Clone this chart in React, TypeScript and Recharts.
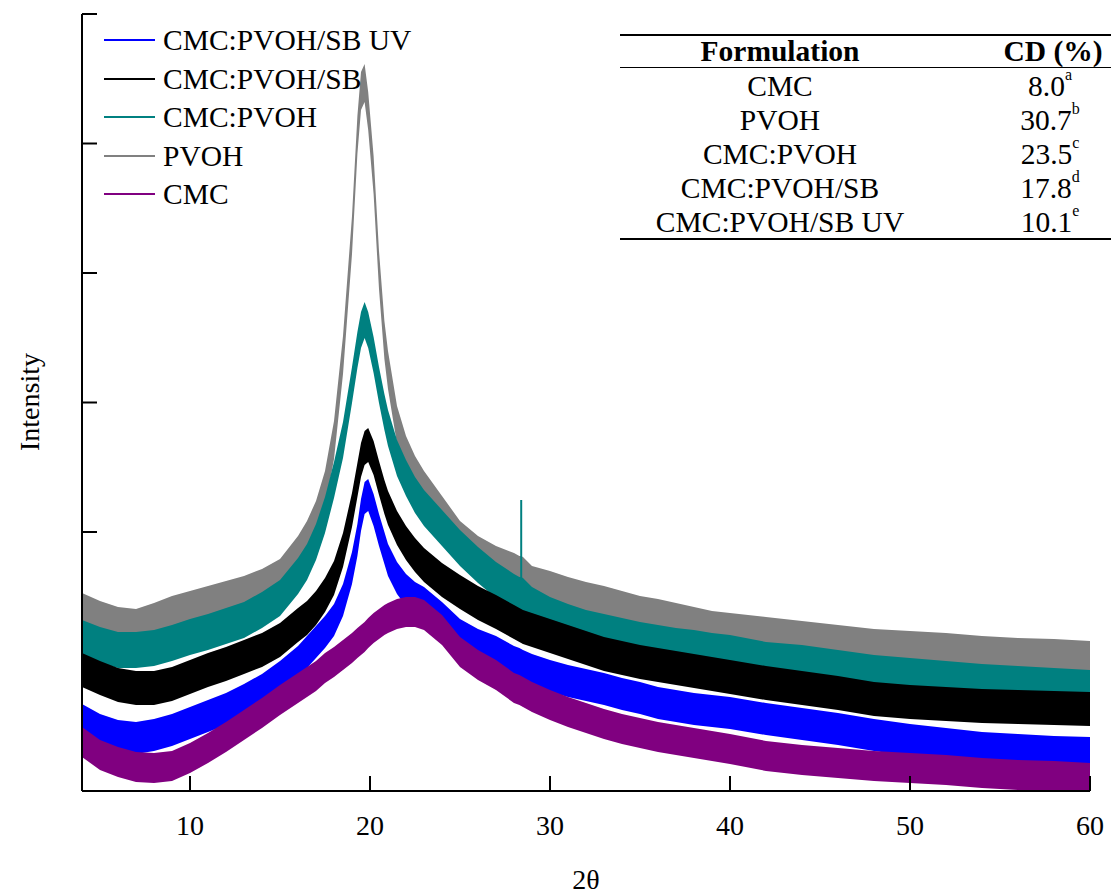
import React from "react";
import { ComposedChart, Area, XAxis, YAxis, ReferenceLine } from "recharts";

// 2θ positions (deg) shared by all patterns
const twoTheta = [
  4, 5, 6, 7, 8, 9, 10, 11, 12, 13, 14, 15, 16, 16.5, 17, 17.5, 18, 18.5, 19, 19.3, 19.5, 19.7, 19.9,
  20.2, 20.5, 20.8, 21, 21.5, 22, 22.5, 23, 24, 25, 26, 27, 28, 28.3, 28.4, 28.5, 29, 30, 31, 32, 33,
  34, 35, 36, 37, 38, 39, 40, 42, 44, 46, 48, 50, 52, 54, 56, 58, 60,
];

// mean intensity of each trace (arbitrary units)
const pvoh = [
  179, 171, 165, 163, 169, 176, 181, 186, 191, 196, 203, 213, 236, 251, 271, 301, 351, 436, 556, 656, 700,
  708, 680, 616, 521, 451, 421, 366, 336, 316, 301, 276, 251, 236, 226, 219, 216, 216, 215, 206, 201, 195,
  190, 186, 181, 176, 173, 169, 165, 161, 159, 155, 151, 147, 143, 141, 139, 136, 134, 133, 131,
];
const cmcPvoh = [
  153, 146, 141, 141, 143, 148, 154, 159, 165, 171, 181, 193, 215, 229, 249, 276, 311, 351, 406, 441, 461,
  471, 461, 436, 406, 379, 363, 333, 313, 296, 283, 263, 243, 226, 211, 199, 196, 196, 195, 186, 176, 169,
  163, 159, 155, 151, 148, 145, 143, 140, 138, 131, 128, 123, 118, 115, 112, 109, 107, 105, 103,
];
const cmcPvohSb = [
  121, 113, 106, 103, 103, 107, 114, 121, 127, 134, 141, 151, 166, 173, 183, 196, 213, 241, 281, 311, 331,
  343, 346, 333, 313, 294, 283, 263, 248, 236, 226, 211, 199, 188, 179, 169, 166, 165, 164, 161, 155, 149,
  143, 137, 133, 129, 126, 123, 120, 117, 114, 108, 103, 98, 92, 89, 87, 85, 84, 83, 82,
];
const cmcPvohSbUv = [
  71, 61, 55, 53, 56, 61, 68, 75, 82, 91, 101, 114, 129, 139, 149, 159, 171, 191, 223, 251, 276,
  293, 296, 281, 261, 243, 231, 213, 201, 193, 188, 173, 156, 146, 139, 129, 127, 126, 125, 121, 115, 110,
  106, 102, 97, 93, 88, 85, 82, 80, 78, 72, 67, 62, 56, 51, 47, 43, 41, 39, 38,
];
const cmc = [
  49, 36, 29, 24, 23, 25, 33, 43, 54, 66, 78, 91, 103, 109, 115, 123, 129, 136, 143, 148, 151,
  154, 158, 163, 167, 171, 173, 177, 179, 179, 176, 161, 139, 126, 116, 103, 101, 100, 99, 94, 86, 79,
  73, 67, 62, 58, 54, 51, 48, 45, 42, 35, 31, 28, 25, 23, 21, 18, 16, 15, 13,
];

// half width of the noise band of each trace
const noise = { pvoh: 19, cmcPvoh: 18, cmcPvohSb: 17, cmcPvohSbUv: 16, cmc: 15 };

// sharp reflection in the CMC:PVOH pattern
const spikeX = 28.4;
const spikeFrom = 196;
const spikeTo = 291;

const xTicks = [10, 20, 30, 40, 50, 60];
const yTicks = [0, 129.5, 259, 388.5, 518, 647.5, 777];

const formulations = ["CMC", "PVOH", "CMC:PVOH", "CMC:PVOH/SB", "CMC:PVOH/SB UV"];
const cdValues = ["8.0", "30.7", "23.5", "17.8", "10.1"];
const cdLetters = ["a", "b", "c", "d", "e"];

const legendItems = [
  { name: "CMC:PVOH/SB UV", color: "#0000ff" },
  { name: "CMC:PVOH/SB", color: "#000000" },
  { name: "CMC:PVOH", color: "#008080" },
  { name: "PVOH", color: "#808080" },
  { name: "CMC", color: "#800080" },
];

const band = (v: number, w: number) => [v - w, v + w];

const data = twoTheta.map((x, i) => ({
  x,
  pvoh: band(pvoh[i], noise.pvoh),
  cmcPvoh: band(cmcPvoh[i], noise.cmcPvoh),
  cmcPvohSb: band(cmcPvohSb[i], noise.cmcPvohSb),
  cmcPvohSbUv: band(cmcPvohSbUv[i], noise.cmcPvohSbUv),
  cmc: band(cmc[i], noise.cmc),
}));

const serif = "'Liberation Serif', 'Times New Roman', serif";
const fs = 29.5;

export default function App() {
  return (
    <div style={{ position: "absolute", left: 0, top: 0, width: 1111, height: 895, fontFamily: serif, color: "#000" }}>
      <ComposedChart width={1111} height={895} data={data} margin={{ top: 14, right: 21, bottom: 0, left: 81 }}>
        <XAxis
          dataKey="x"
          type="number"
          domain={[4, 60]}
          ticks={xTicks}
          allowDataOverflow
          height={104}
          tickSize={-15}
          tickMargin={39}
          tick={{ fill: "#000", fontSize: 28, fontFamily: serif }}
          axisLine={{ stroke: "#000", strokeWidth: 2 }}
          tickLine={{ stroke: "#000", strokeWidth: 2 }}
          label={{ value: "2θ", position: "insideBottom", offset: 6, fill: "#000", fontSize: 28, fontFamily: serif }}
        />
        <YAxis
          type="number"
          domain={[0, 777]}
          ticks={yTicks}
          allowDataOverflow
          width={1}
          tickSize={-15}
          tickFormatter={() => ""}
          axisLine={{ stroke: "#000", strokeWidth: 2 }}
          tickLine={{ stroke: "#000", strokeWidth: 2 }}
        />
        <Area type="linear" dataKey="pvoh" stroke="none" fill="#808080" fillOpacity={1} isAnimationActive={false} dot={false} activeDot={false} />
        <Area type="linear" dataKey="cmcPvoh" stroke="none" fill="#008080" fillOpacity={1} isAnimationActive={false} dot={false} activeDot={false} />
        <ReferenceLine
          segment={[
            { x: spikeX, y: spikeFrom },
            { x: spikeX, y: spikeTo },
          ]}
          stroke="#008080"
          strokeWidth={2}
        />
        <Area type="linear" dataKey="cmcPvohSb" stroke="none" fill="#000000" fillOpacity={1} isAnimationActive={false} dot={false} activeDot={false} />
        <Area type="linear" dataKey="cmcPvohSbUv" stroke="none" fill="#0000ff" fillOpacity={1} isAnimationActive={false} dot={false} activeDot={false} />
        <Area type="linear" dataKey="cmc" stroke="none" fill="#800080" fillOpacity={1} isAnimationActive={false} dot={false} activeDot={false} />
      </ComposedChart>

      <div
        style={{
          position: "absolute",
          left: 30,
          top: 402,
          transform: "translate(-50%, -50%) rotate(-90deg)",
          fontSize: 28,
          whiteSpace: "nowrap",
        }}
      >
        Intensity
      </div>

      {legendItems.map((item, i) => (
        <div key={item.name} style={{ position: "absolute", left: 104, top: 40 + i * 38.5 - 17, height: 34, display: "flex", alignItems: "center" }}>
          <div style={{ width: 51, height: 2, background: item.color }} />
          <span style={{ marginLeft: 8, fontSize: fs, lineHeight: "34px", whiteSpace: "nowrap" }}>{item.name}</span>
        </div>
      ))}

      {/* crystallinity table */}
      <div style={{ position: "absolute", left: 620, top: 34, width: 491, height: 2, background: "#000" }} />
      <div style={{ position: "absolute", left: 620, top: 67, width: 491, height: 1, background: "#000" }} />
      <div style={{ position: "absolute", left: 620, top: 238, width: 491, height: 2, background: "#000" }} />
      <div style={{ position: "absolute", left: 780, top: 51, transform: "translate(-50%, -50%)", fontSize: fs, fontWeight: "bold", whiteSpace: "nowrap" }}>
        Formulation
      </div>
      <div style={{ position: "absolute", left: 1053, top: 51, transform: "translate(-50%, -50%)", fontSize: fs, fontWeight: "bold", whiteSpace: "nowrap" }}>
        CD (%)
      </div>
      {formulations.map((f, i) => (
        <React.Fragment key={f}>
          <div style={{ position: "absolute", left: 780, top: 86 + i * 34, transform: "translate(-50%, -50%)", fontSize: fs, whiteSpace: "nowrap" }}>
            {f}
          </div>
          <div style={{ position: "absolute", left: 1050, top: 86 + i * 34, transform: "translate(-50%, -50%)", fontSize: fs, whiteSpace: "nowrap" }}>
            {cdValues[i]}
            <sup style={{ fontSize: 16, verticalAlign: "top", position: "relative", top: -4 }}>{cdLetters[i]}</sup>
          </div>
        </React.Fragment>
      ))}
    </div>
  );
}
